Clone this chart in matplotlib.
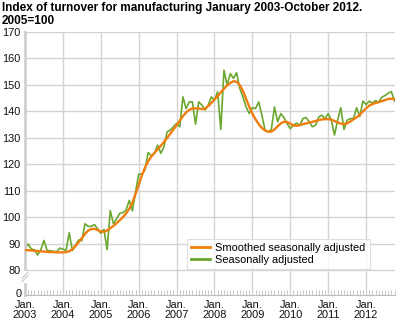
import matplotlib
matplotlib.use("Agg")
import matplotlib.pyplot as plt
import numpy as np

plt.rcParams['font.family'] = ['Liberation Sans', 'DejaVu Sans']

title = "Index of turnover for manufacturing January 2003-October 2012.\n2005=100"

# Monthly index values, January 2003 - October 2012
seasonally_adjusted = [
    88.7, 89.9, 88.0, 87.8, 85.8, 87.8, 91.3, 87.5, 87.4, 87.2, 87.0, 88.4,      # 2003
    88.0, 87.6, 94.2, 87.5, 89.5, 91.5, 91.2, 97.6, 96.6, 96.6, 97.3, 95.7,      # 2004
    94.0, 95.5, 87.8, 102.6, 97.6, 99.5, 101.5, 101.8, 102.8, 106.4, 102.5, 109.5,  # 2005
    116.3, 116.4, 118.0, 124.5, 123.2, 124.2, 127.3, 124.2, 126.7, 132.3, 133.0, 134.2,  # 2006
    135.5, 134.2, 145.5, 141.1, 143.6, 143.6, 135.2, 143.6, 142.4, 140.5, 142.4, 145.5,  # 2007
    144.3, 147.4, 133.2, 155.6, 150.0, 154.3, 152.5, 154.6, 148.7, 145.5, 141.7, 139.2,  # 2008
    141.4, 141.1, 143.6, 138.6, 133.0, 132.3, 133.2, 141.7, 136.1, 139.2, 137.7, 135.4,  # 2009
    133.5, 134.8, 135.6, 134.8, 137.3, 137.7, 136.1, 134.2, 134.8, 137.9, 138.6, 137.3,  # 2010
    139.2, 136.7, 131.1, 136.7, 141.4, 133.2, 136.7, 137.3, 137.3, 141.4, 138.1, 143.9,  # 2011
    142.6, 143.9, 143.1, 144.1, 143.5, 145.4, 146.0, 146.9, 147.5, 143.9,              # 2012
]

smoothed = [
    87.7, 87.6, 87.5, 87.4, 87.3, 87.2, 87.1, 87.0, 86.9, 86.9, 86.8, 86.8,      # 2003
    86.8, 86.9, 87.2, 88.0, 89.2, 90.7, 92.2, 93.8, 95.0, 95.6, 95.7, 95.2,      # 2004
    94.7, 94.6, 95.1, 95.9, 96.8, 97.8, 98.9, 100.1, 101.5, 103.2, 105.6, 108.8,  # 2005
    112.3, 115.8, 118.8, 121.2, 123.0, 124.4, 125.7, 127.0, 128.5, 130.0, 131.6, 133.2,  # 2006
    134.8, 136.5, 138.2, 139.6, 140.6, 141.1, 141.2, 141.1, 140.9, 141.0, 142.0, 143.2,  # 2007
    144.5, 145.8, 147.2, 148.6, 149.8, 150.8, 151.4, 151.2, 150.0, 147.8, 144.8, 141.8,  # 2008
    139.2, 137.0, 135.2, 133.8, 132.8, 132.3, 132.4, 133.2, 134.4, 135.5, 136.1, 136.0,  # 2009
    135.4, 134.7, 134.6, 134.8, 135.2, 135.5, 135.8, 136.1, 136.4, 136.7, 137.0, 137.1,  # 2010
    137.1, 136.9, 136.4, 135.8, 135.4, 135.3, 135.5, 136.2, 137.0, 137.8, 138.8, 140.0,  # 2011
    141.2, 142.2, 142.8, 143.2, 143.5, 143.9, 144.3, 144.7, 144.8, 144.7,              # 2012
]

years = [2003, 2004, 2005, 2006, 2007, 2008, 2009, 2010, 2011, 2012]
y_ticks = [80, 90, 100, 110, 120, 130, 140, 150, 160, 170]

ORANGE = "#F07D0E"
GREEN = "#6AA72F"
GRID = "#D3D3D3"

months = np.arange(len(seasonally_adjusted))
n = len(months)

# The value axis is broken: 0 sits a short distance below 80
Y_ZERO = 70.7

W, H = 396, 323
fig = plt.figure(figsize=(W / 100, H / 100), dpi=100)
ax = fig.add_axes([25 / W, (H - 295) / H, 369.5 / W, 263 / H])

ax.set_xlim(0, n - 1)
ax.set_ylim(Y_ZERO, 170)

# grid
for v in y_ticks:
    ax.axhline(v, color=GRID, lw=1.0, zorder=0)
year_pos = [(y - years[0]) * 12 for y in years]
for xp in year_pos[1:]:
    ax.axvline(xp, color=GRID, lw=1.0, zorder=0)

ax.plot(months, smoothed, color=ORANGE, lw=1.7, label="Smoothed seasonally adjusted",
        zorder=3, solid_joinstyle='round')
ax.plot(months, seasonally_adjusted, color=GREEN, lw=1.2, label="Seasonally adjusted",
        zorder=2, solid_joinstyle='round')

# axes styling
for s in ['top', 'right']:
    ax.spines[s].set_visible(False)
ax.spines['left'].set_color("#CFCFCF")
ax.spines['left'].set_linewidth(2.0)
ax.spines['bottom'].set_color("#BDBDBD")
ax.spines['bottom'].set_linewidth(0.8)

ax.set_yticks(y_ticks)
ax.set_yticklabels([str(v) for v in y_ticks])
ax.tick_params(axis='y', length=0, pad=3, labelsize=7.9, labelcolor="#111111")

# the "0" label of the broken axis sits just above the bottom line
fig.text(21.5 / W, (H - 297.3) / H, "0", ha='right', va='baseline', fontsize=7.9,
         color="#111111")

ax.set_xticks(year_pos)
ax.set_xticklabels([f"Jan.\n{y}" for y in years])
ax.set_xticks(months, minor=True)
ax.tick_params(axis='x', which='major', length=0, pad=3.3, labelsize=7.9,
               labelcolor="#111111")
ax.tick_params(axis='x', which='minor', direction='in', length=3.6, width=0.6,
               color="#BDBDBD")
for lbl in ax.get_xticklabels():
    lbl.set_linespacing(1.0)

# axis break marks between 80 and 0
yb = (77.5 - Y_ZERO) / (170 - Y_ZERO)
ax.plot([0.0, 0.0], [yb - 0.014, yb + 0.014], transform=ax.transAxes, color="white",
        lw=3, clip_on=False, zorder=5)
for dy in (-0.006, 0.006):
    ax.plot([-0.008, 0.008], [yb + dy - 0.012, yb + dy + 0.012], transform=ax.transAxes,
            color="#C8C8C8", lw=0.8, clip_on=False, zorder=6)

leg = ax.legend(loc='upper left', bbox_to_anchor=(0.4376, 0.2143), fontsize=7.9,
                frameon=True, fancybox=False, borderpad=0.4, handlelength=1.75,
                handletextpad=0.45, labelspacing=0.15, borderaxespad=0)
leg.get_frame().set_edgecolor("#D8D8D8")
leg.get_frame().set_linewidth(0.8)
leg.set_zorder(10)
for line in leg.get_lines():
    line.set_linewidth(2.0)

fig.text(1.5 / W, 1 - 2 / H, title, ha='left', va='top', fontsize=8.5,
         fontweight='bold', linespacing=1.12)

fig.savefig("out.png", dpi=100)
